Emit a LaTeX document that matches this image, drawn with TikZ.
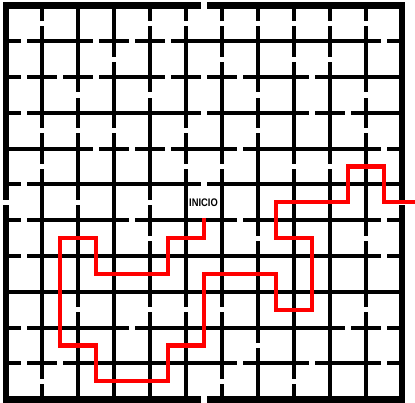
\documentclass[tikz,border=0pt]{standalone}
\usepackage{fontspec}
\setmainfont{Liberation Sans}

\tikzset{
  muro/.style={line width=4pt},
  borde/.style={line width=6.5pt},
  hueco/.style={fill=white},
  ruta/.style={draw=red,line width=4.2pt,line join=miter},
  rotulo/.style={font=\bfseries\fontsize{11}{11}\selectfont,inner sep=0pt,xscale=0.85}
}

\begin{document}
\begin{tikzpicture}[x=36pt,y=-35.8pt]

\useasboundingbox (-0.1667,-0.1536) rectangle (11.3611,11.1034);

%%%%%%%%%%%%%%%%%%%%%%%%
% grid
%%%%%%%%%%%%%%%%%%%%%%%%

\foreach \i in {1,...,10} {
  \draw[muro] (\i,0) -- (\i,11);
  \draw[muro] (0,\i) -- (11,\i);
}
\draw[borde] (0,0) rectangle (11,11);

% gaps in the vertical walls (line / rows)
\foreach \i/\filas in {1/{0,3,4,10},2/{2,3,5,8},3/{1,3},4/{0,2,5,6,8},5/{0,3,4,8},
                       6/{0,1,4,8,10},7/{0,2,3,6,9},8/{0,1,4,10},9/{0,1,4},10/{0,2,3,6,8}} {
  \foreach \r in \filas
    \fill[hueco] (\i-0.125,\r+0.43) rectangle (\i+0.125,\r+0.57);
}

% gaps in the horizontal walls (line / columns)
\foreach \j/\cols in {1/{0,2,3,4,10},2/{0,1,2,4,5,6,8},3/{0,5,8,9},4/{2,3,4,6,10},5/{0,5},
                      6/{0,3,6,10},7/{0,10},9/{0,3,9,10},10/{0,1,6,8,10}} {
  \foreach \c in \cols
    \fill[hueco] (\c+0.43,\j-0.125) rectangle (\c+0.57,\j+0.125);
}

% openings in the outer wall
\fill[hueco] (5.43,-0.2) rectangle (5.57,0.2);
\fill[hueco] (5.43,10.8) rectangle (5.57,11.2);
\fill[hueco] (-0.2,5.42) rectangle (0.2,5.58);
\fill[hueco] (10.8,5.42) rectangle (11.2,5.58);

%%%%%%%%%%%%%%%%%%%%%%%%
% route
%%%%%%%%%%%%%%%%%%%%%%%%

\node[rotulo] (inicio) at (5.486,5.503) {INICIO};

\coordinate (partida) at (5.5,5.936);
\coordinate (salida) at (11.3611,5.5);

\draw[ruta] (partida) -- (5.5,6.5) -- (4.5,6.5) -- (4.5,7.5) -- (2.5,7.5) -- (2.5,6.5)
  -- (1.5,6.5) -- (1.5,9.5) -- (2.5,9.5) -- (2.5,10.5) -- (4.5,10.5) -- (4.5,9.5)
  -- (5.5,9.5) -- (5.5,7.5) -- (7.5,7.5) -- (7.5,8.5) -- (8.5,8.5) -- (8.5,6.5)
  -- (7.5,6.5) -- (7.5,5.5) -- (9.5,5.5) -- (9.5,4.5) -- (10.5,4.5) -- (10.5,5.5)
  -- (salida);

\end{tikzpicture}
\end{document}
